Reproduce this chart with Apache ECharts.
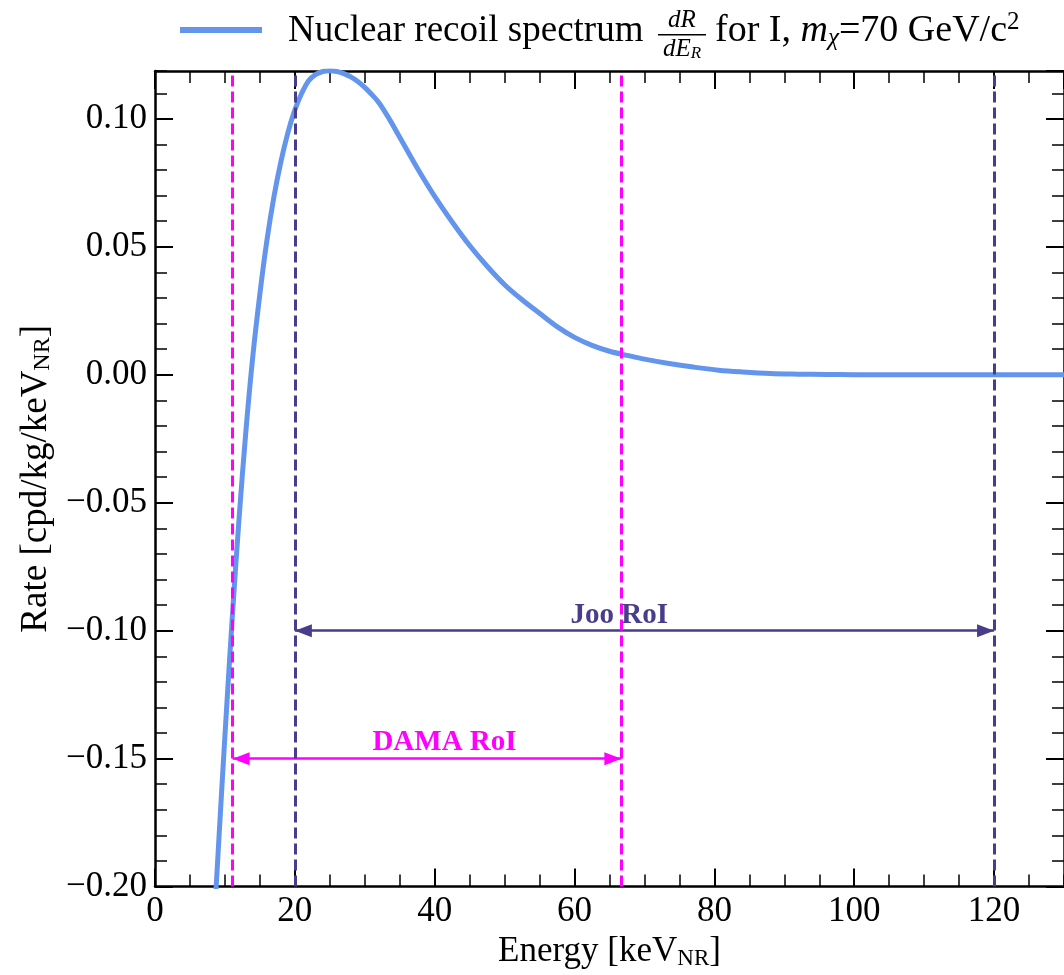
<!DOCTYPE html>
<html>
<head>
<meta charset="utf-8">
<title>Nuclear recoil spectrum</title>
<script src="https://cdn.jsdelivr.net/npm/echarts@6/dist/echarts.min.js"></script>
<style>
  html, body { margin: 0; padding: 0; background: #fff; }
  #chart { width: 1064px; height: 975px; }
</style>
</head>
<body>
<div id="chart"></div>
<script>
// spectrum (keV_NR, cpd/kg/keV_NR)
var energy = [8.5, 9, 10, 11, 12, 13, 14, 15, 16, 17, 18, 19, 20, 21, 22, 23, 24, 25, 26, 27, 28, 29, 30,
              31, 32, 33.5, 35, 37.5, 40, 42.5, 45, 47.5, 50, 52.5, 55, 57.5, 60, 62.5, 65, 67.5, 70,
              73.5, 77, 80.6, 84, 88, 92, 96, 100, 110, 120, 130];
var rate = [-0.212, -0.188, -0.141, -0.097, -0.057, -0.022, 0.0075, 0.0316, 0.0524, 0.0694, 0.0832, 0.0945, 0.1035,
            0.1101, 0.1150, 0.1174, 0.1185, 0.1188, 0.1185, 0.1177, 0.1164, 0.1146, 0.1123,
            0.1095, 0.1064, 0.1000, 0.0928, 0.0808, 0.0697, 0.0597, 0.0505, 0.0424, 0.0352, 0.0293, 0.0240,
            0.0188, 0.0146, 0.0115, 0.0092, 0.0076, 0.0061,
            0.0044, 0.0030, 0.0018, 0.0011, 0.0005, 0.00025, 0.0001, 0.00004, 0, 0, 0];

var dama_roi = [11.1, 66.7];
var joo_roi = [20, 120];
var dama_arrow_y = -0.15;
var joo_arrow_y = -0.10;
var dama_label = [41.4, -0.1436];
var joo_label = [66.4, -0.0942];

var x_range = [0, 130];
var y_range = [-0.2, 0.1187];

var FONT = "'Liberation Serif', 'DejaVu Serif', serif";
var BLUE = '#6495ED';
var MAGENTA = '#FF00FF';
var PURPLE = '#483D8B';

var data = [];
for (var i = 0; i < energy.length; i++) {
  data.push([energy[i], rate[i]]);
}

function minusFmt(v) {
  return v.toFixed(2).replace('-', '\u2212');
}

function subRich(size) {
  return { sub: { fontSize: Math.round(size * 0.66), fontFamily: FONT, color: '#000', padding: [Math.round(size * 0.36), 0, 0, 0] } };
}

// one axis for major ticks, a twin for the minor ones, on each side
function xAx(pos, interval, len, major, withLabels) {
  return {
    type: 'value', position: pos, min: x_range[0], max: x_range[1], interval: interval,
    axisLine: { show: major, onZero: false, lineStyle: { color: '#000', width: 2.5 } },
    axisTick: { show: true, inside: true, length: len, lineStyle: { color: '#000', width: major ? 2 : 1.5 } },
    axisLabel: withLabels ? {
      show: true, margin: 8, showMaxLabel: false, fontSize: 35, fontFamily: FONT, color: '#000'
    } : { show: false },
    splitLine: { show: false }
  };
}
function yAx(pos, interval, len, major, withLabels) {
  return {
    type: 'value', position: pos, min: y_range[0], max: y_range[1], interval: interval,
    axisLine: { show: major, onZero: false, lineStyle: { color: '#000', width: 2.5 } },
    axisTick: { show: true, inside: true, length: len, lineStyle: { color: '#000', width: major ? 2 : 1.5 } },
    axisLabel: withLabels ? {
      show: true, margin: 8, showMaxLabel: false, fontSize: 35, fontFamily: FONT, color: '#000',
      formatter: minusFmt
    } : { show: false },
    splitLine: { show: false }
  };
}

var xMain = xAx('bottom', 20, 18, true, true);
xMain.name = 'Energy [keV{sub|NR}]';
xMain.nameLocation = 'middle';
xMain.nameGap = 43;
xMain.nameTextStyle = { fontSize: 35, fontFamily: FONT, color: '#000', rich: subRich(35) };

var yMain = yAx('left', 0.05, 18, true, true);
yMain.name = 'Rate [cpd/kg/keV{sub|NR}]';
yMain.nameLocation = 'middle';
yMain.nameGap = 98;
yMain.nameTextStyle = { fontSize: 37, fontFamily: FONT, color: '#000', rich: subRich(37) };

var chart = echarts.init(document.getElementById('chart'));

chart.setOption({
  animation: false,
  backgroundColor: '#fff',
  grid: { left: 155, top: 71, width: 911, height: 819 },
  xAxis: [
    xMain,
    xAx('bottom', 5, 12, false, false),
    xAx('top', 20, 18, true, false),
    xAx('top', 5, 12, false, false)
  ],
  yAxis: [
    yMain,
    yAx('left', 0.01, 12, false, false),
    yAx('right', 0.05, 18, true, false),
    yAx('right', 0.01, 12, false, false)
  ],
  graphic: [
    { type: 'line', shape: { x1: 180, y1: 30, x2: 262, y2: 30 }, style: { stroke: BLUE, lineWidth: 6 } },
    { type: 'text', x: 288, y: 31, style: { text: 'Nuclear recoil spectrum', font: '37px ' + FONT, fill: '#000', verticalAlign: 'middle' } },
    { type: 'text', x: 682, y: 20, style: { text: 'dR', font: 'italic 25px ' + FONT, fill: '#000', align: 'center', verticalAlign: 'middle' } },
    { type: 'rect', shape: { x: 658, y: 34, width: 48, height: 1.5 }, style: { fill: '#000' } },
    { type: 'text', x: 682, y: 49, style: {
        text: '{i|dE}{s|R}', align: 'center', verticalAlign: 'middle', fill: '#000',
        rich: {
          i: { font: 'italic 25px ' + FONT, fill: '#000' },
          s: { font: 'italic 17px ' + FONT, fill: '#000', padding: [9, 0, 0, 0] }
        }
      } },
    { type: 'text', x: 715, y: 31, style: {
        text: 'for I, {i|m}{s|\u03c7}=70 GeV/c{p|2}', font: '38px ' + FONT, fill: '#000', verticalAlign: 'middle',
        rich: {
          i: { font: 'italic 38px ' + FONT, fill: '#000' },
          s: { font: 'italic 25px ' + FONT, fill: '#000', padding: [14, 0, 0, 0] },
          p: { font: '25px ' + FONT, fill: '#000', padding: [0, 0, 18, 0] }
        }
      } }
  ],
  series: [
    {
      name: 'spectrum',
      type: 'line',
      xAxisIndex: 0, yAxisIndex: 0,
      data: data,
      smooth: 0.35,
      showSymbol: false,
      silent: true,
      z: 2,
      lineStyle: { color: BLUE, width: 5 }
    },
    {
      // RoI arrows and their labels
      type: 'line', xAxisIndex: 0, yAxisIndex: 0, data: [], z: 3,
      markLine: {
        silent: true, z: 5,
        symbol: ['triangle', 'triangle'],
        symbolSize: [13, 17],
        symbolOffset: [[0, 8.5], [0, 8.5]],
        label: { show: false },
        data: [
          [{ coord: [joo_roi[0], joo_arrow_y], lineStyle: { color: PURPLE }, itemStyle: { color: PURPLE } },
           { coord: [joo_roi[1], joo_arrow_y] }],
          [{ coord: [dama_roi[0], dama_arrow_y], lineStyle: { color: MAGENTA }, itemStyle: { color: MAGENTA } },
           { coord: [dama_roi[1], dama_arrow_y] }]
        ],
        lineStyle: { type: 'solid', width: 2.5 }
      },
      markPoint: {
        silent: true, z: 5,
        symbol: 'circle', symbolSize: 1,
        itemStyle: { color: 'rgba(0,0,0,0)' },
        label: { show: true, position: 'inside', formatter: '{b}', fontSize: 29, fontWeight: 'bold', fontFamily: FONT },
        data: [
          { name: 'Joo RoI', coord: joo_label, label: { color: PURPLE } },
          { name: 'DAMA RoI', coord: dama_label, label: { color: MAGENTA } }
        ]
      }
    },
    {
      // RoI boundaries
      type: 'line', xAxisIndex: 0, yAxisIndex: 0, data: [], z: 4,
      markLine: {
        silent: true, z: 6,
        symbol: 'none',
        label: { show: false },
        lineStyle: { type: [11, 5], width: 3 },
        data: [
          { xAxis: dama_roi[0], lineStyle: { color: MAGENTA } },
          { xAxis: dama_roi[1], lineStyle: { color: MAGENTA } },
          { xAxis: joo_roi[0], lineStyle: { color: PURPLE } },
          { xAxis: joo_roi[1], lineStyle: { color: PURPLE } }
        ]
      }
    }
  ]
});
</script>
</body>
</html>
